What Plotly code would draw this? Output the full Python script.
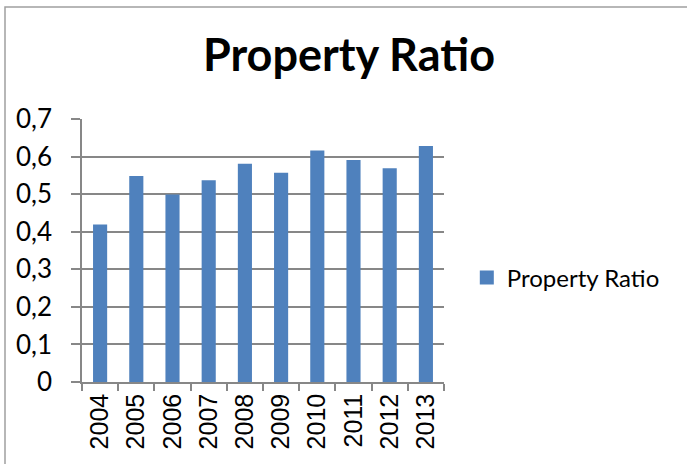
import plotly.graph_objects as go

years = ["2004", "2005", "2006", "2007", "2008", "2009", "2010", "2011", "2012", "2013"]
property_ratio = [0.419, 0.548, 0.499, 0.537, 0.581, 0.557, 0.616, 0.591, 0.569, 0.628]

bar_color = "#4F81BD"
grid_color = "#878787"

fig = go.Figure(go.Bar(x=years, y=property_ratio, name="Property Ratio",
                       marker=dict(color=bar_color, line=dict(width=0)),
                       showlegend=False))
# legend entry with a bigger square, like the Excel legend
fig.add_trace(go.Scatter(x=[None], y=[None], mode="markers", name="Property Ratio",
                         marker=dict(symbol="square", size=14, color=bar_color)))

fig.update_layout(
    width=687, height=464,
    margin=dict(l=82, r=243, t=119, b=82),
    paper_bgcolor="white", plot_bgcolor="white",
    separators=", ",
    bargap=0.61,
    title=dict(text="<b>Property Ratio</b>", x=349 / 687, xanchor="center",
               y=1 - 55 / 464, yanchor="middle",
               font=dict(family="Lato", size=45, color="black")),
    legend=dict(x=1.063, xanchor="left", y=0.396, yanchor="middle",
                font=dict(family="Lato", size=24, color="black"),
                itemwidth=30),
    shapes=[dict(type="rect", xref="paper", yref="paper",
                 x0=(5 - 82) / 362, x1=(700 - 82) / 362,
                 y0=-0.5, y1=(382 - 7) / 263,
                 line=dict(color="#A0A0A0", width=1.5))],
)

fig.update_xaxes(type="category", showline=True, linecolor=grid_color, linewidth=1.5,
                 ticks="outside", tickson="boundaries", ticklen=7, tickcolor=grid_color,
                 tickwidth=1.5, tickangle=-90, showgrid=False, automargin=False,
                 tickfont=dict(family="Liberation Sans", size=25, color="black"))
fig.update_yaxes(range=[0, 0.7], dtick=0.1, showline=True, linecolor=grid_color, linewidth=1.5,
                 ticks="outside", ticklen=9, tickcolor=grid_color, tickwidth=1.5,
                 gridcolor=grid_color, gridwidth=1.5, zeroline=False, automargin=False,
                 ticklabelstandoff=14,
                 tickfont=dict(family="Lato", size=26, color="black"))

# drop the page's default body margin so the figure sits at the window corner
fig.write_html("out.html", config={"displayModeBar": False},
               post_script="document.body.style.margin='0';")
